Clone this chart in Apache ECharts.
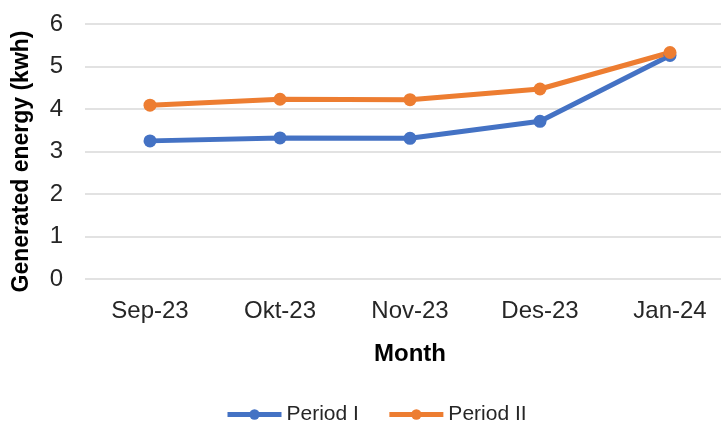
<!DOCTYPE html>
<html>
<head>
<meta charset="utf-8">
<style>
  html, body { margin: 0; padding: 0; background: #fff; overflow: hidden; }
  /* the plot area runs on past the right edge of the window, cutting off the last category */
  #chart { width: 735px; height: 433px; }
</style>
<script src="https://cdn.jsdelivr.net/npm/echarts@6/dist/echarts.min.js"></script>
</head>
<body>
<div id="chart"></div>
<script>
// Monthly generated energy for two measurement periods
var months = ['Sep-23', 'Okt-23', 'Nov-23', 'Des-23', 'Jan-24'];
var periodI = [3.25, 3.32, 3.31, 3.71, 5.26];
var periodII = [4.09, 4.23, 4.22, 4.47, 5.33];
var seriesNames = ['Period I', 'Period II'];
var seriesColors = ['#4472C4', '#ED7D31'];

var FONT = '"Liberation Sans", Arial, sans-serif';

var chart = echarts.init(document.getElementById('chart'), null, { renderer: 'canvas' });

function lineSeries(name, data, color) {
  return {
    name: name,
    type: 'line',
    data: data,
    symbol: 'circle',
    symbolSize: 13,
    lineStyle: { width: 5, color: color },
    itemStyle: { color: color },
    emphasis: { disabled: true },
    animation: false
  };
}

chart.setOption({
  animation: false,
  textStyle: { fontFamily: FONT },
  grid: { left: 85, right: 0, top: 24, bottom: 154, containLabel: false },
  legend: {
    bottom: 3,
    left: 220,
    itemWidth: 54,
    itemHeight: 13,
    itemGap: 28,
    textStyle: { fontFamily: FONT, fontSize: 21, color: '#262626' },
    lineStyle: { width: 5 },
    data: seriesNames
  },
  xAxis: {
    type: 'category',
    data: months,
    boundaryGap: true,
    name: 'Month',
    nameLocation: 'middle',
    nameGap: 63,
    nameTextStyle: { fontFamily: FONT, fontSize: 24, fontWeight: 'bold', color: '#000' },
    axisLine: { show: false },
    axisTick: { show: false },
    axisLabel: { fontFamily: FONT, fontSize: 24, color: '#262626', margin: 20 }
  },
  yAxis: {
    type: 'value',
    min: 0,
    max: 6,
    interval: 1,
    name: 'Generated energy (kwh)',
    nameLocation: 'middle',
    nameGap: 52,
    nameTextStyle: { fontFamily: FONT, fontSize: 23, fontWeight: 'bold', color: '#000', padding: [0, 20, 0, 0] },
    axisLine: { show: false },
    axisTick: { show: false },
    axisLabel: { fontFamily: FONT, fontSize: 24, color: '#262626', margin: 22 },
    splitLine: { lineStyle: { color: '#d9d9d9', width: 1.5 } }
  },
  series: [
    lineSeries(seriesNames[0], periodI, seriesColors[0]),
    lineSeries(seriesNames[1], periodII, seriesColors[1])
  ]
});
</script>
</body>
</html>
